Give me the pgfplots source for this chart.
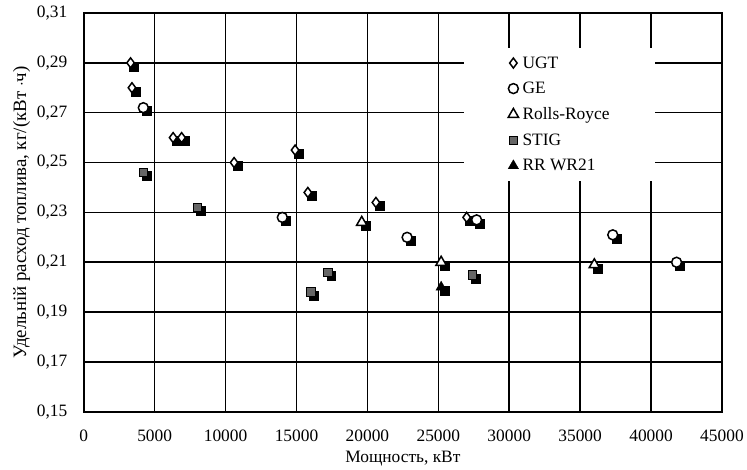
\documentclass[border=0pt]{standalone}
\usepackage{fontspec}
\setmainfont{Liberation Serif}
\usepackage{pgfplots}
\pgfplotsset{compat=1.18}

\begin{document}
\begin{tikzpicture}[font=\fontsize{17.5}{21}\selectfont]
\begin{axis}[scale only axis,width=640bp,height=400bp,
  xmin=0,xmax=45000,ymin=0.15,ymax=0.31,
  xtick={0,5000,...,45000},ytick={0.15,0.17,...,0.31},
  scaled x ticks=false,scaled y ticks=false,
  /pgf/number format/assume math mode=true,
  tick label style={font=\fontsize{17.5}{21}\selectfont},
  xlabel style={font=\fontsize{17.5}{21}\selectfont,yshift=-2bp},
  ylabel style={font=\fontsize{19}{23}\selectfont,yshift=0bp},
  xticklabel style={yshift=-15bp,/pgf/number format/.cd,1000 sep={}},
  yticklabel style={xshift=-13bp,/pgf/number format/.cd,fixed,fixed zerofill,precision=2,use comma},
  major tick length=0pt,
  grid=major,grid style={black,line width=1.6bp},
  axis line style={line width=1.6bp},
  xlabel={Мощность, кВт},
  ylabel={Удельній расход топлива, кг/(кВт $\cdot$ч)},
  legend style={at={(rel axis cs:0.596,0.9125)},anchor=north west,
    draw=none,fill=white,inner xsep=44bp,inner ysep=6.5bp,row sep=8.6bp,column sep=2bp,
    font=\fontsize{17.5}{21}\selectfont},
  legend cell align=left,
  shadow/.style={only marks,forget plot,mark=square*,mark size=4.5bp,
    mark options={fill=black,draw=black,xshift=3.5bp,yshift=-3.5bp}},
]
% UGT
\addplot[shadow] coordinates {(3300,0.290)(3400,0.280)(6300,0.260)(6900,0.260)(10600,0.250)(14900,0.255)(15800,0.238)(20600,0.234)(27000,0.228)};
\addplot[only marks,mark=diamond*,mark size=5bp,mark options={fill=white,draw=black,line width=1.5bp}]
  coordinates {(3300,0.290)(3400,0.280)(6300,0.260)(6900,0.260)(10600,0.250)(14900,0.255)(15800,0.238)(20600,0.234)(27000,0.228)};
% GE
\addplot[shadow] coordinates {(4200,0.272)(14000,0.228)(22800,0.220)(27700,0.227)(37300,0.221)(41800,0.210)};
\addplot[only marks,mark=*,mark size=5bp,mark options={fill=white,draw=black,line width=1.5bp}]
  coordinates {(4200,0.272)(14000,0.228)(22800,0.220)(27700,0.227)(37300,0.221)(41800,0.210)};
% Rolls-Royce
\addplot[shadow] coordinates {(19600,0.226)(25200,0.210)(36000,0.209)};
\addplot[only marks,mark=triangle*,mark size=6bp,mark options={fill=white,draw=black,line width=1.5bp}]
  coordinates {(19600,0.226)(25200,0.210)(36000,0.209)};
% STIG
\addplot[shadow] coordinates {(4200,0.246)(8000,0.232)(16000,0.198)(17200,0.206)(27400,0.205)};
\addplot[only marks,mark=square*,mark size=4.3bp,mark options={fill=black!60,draw=black,line width=0.8bp}]
  coordinates {(4200,0.246)(8000,0.232)(16000,0.198)(17200,0.206)(27400,0.205)};
% RR WR21
\addplot[shadow] coordinates {(25200,0.200)};
\addplot[only marks,mark=triangle*,mark size=6bp,mark options={fill=black,draw=black}]
  coordinates {(25200,0.200)};
\legend{UGT,GE,Rolls-Royce,STIG,RR WR21}
\end{axis}
% page margins as in the reference
\path (current axis.south west) ++(-84bp,0);
\path (current axis.north east) ++(0,13bp);
\end{tikzpicture}
\end{document}
